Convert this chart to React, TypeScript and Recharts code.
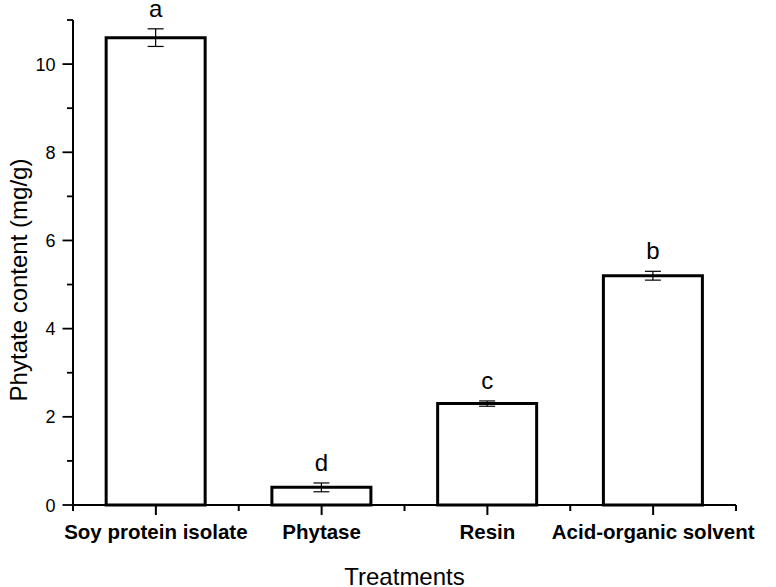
import React from 'react';
import { BarChart, Bar, XAxis, YAxis, ErrorBar, LabelList } from 'recharts';

const categories = ['Soy protein isolate', 'Phytase', 'Resin', 'Acid-organic solvent'];
const values = [10.6, 0.4, 2.3, 5.2];
const errors = [0.2, 0.1, 0.06, 0.1];
const letters = ['a', 'd', 'c', 'b'];
const yTicks = [0, 1, 2, 3, 4, 5, 6, 7, 8, 9, 10, 11];

const data = categories.map((name, i) => ({ name, value: values[i], err: errors[i], letter: letters[i] }));

const W = 776;
const H = 587;
const AXIS_X = 73;
const AXIS_Y = 505;
const PLOT_RIGHT = 736;
const BAND = (PLOT_RIGHT - AXIS_X) / categories.length;
const FONT = 'Arial, "Liberation Sans", Helvetica, sans-serif';

const xTickPaths = () => {
  const parts: string[] = [];
  for (let i = 0; i <= categories.length; i++) {
    const bx = AXIS_X + BAND * i;
    parts.push(`M${bx},${AXIS_Y}V${AXIS_Y + 6}`);
    if (i < categories.length) {
      const cx = bx + BAND / 2;
      parts.push(`M${cx},${AXIS_Y}V${AXIS_Y + 10}`);
    }
  }
  return parts.join('');
};

const YTick = (props: any) => {
  const { y, payload } = props;
  const v = payload.value as number;
  const major = v % 2 === 0;
  return (
    <g>
      <path d={`M${AXIS_X - (major ? 10.5 : 6)},${y}H${AXIS_X}`} stroke="#000" strokeWidth={1.8} fill="none" />
      {v === 0 && <path d={xTickPaths()} stroke="#000" strokeWidth={2} fill="none" />}
      {major && (
        <text x={AXIS_X - 17.5} y={y} dy={6.5} textAnchor="end" fontSize={18} fontFamily={FONT} fill="#000">
          {v}
        </text>
      )}
    </g>
  );
};

const XTick = (props: any) => {
  const { x, payload } = props;
  return (
    <g>
      <text x={x} y={539} textAnchor="middle" fontSize={20.5} fontWeight="bold" fontFamily={FONT} fill="#000">
        {payload.value}
      </text>
    </g>
  );
};

const LetterLabel = (props: any) => {
  const { x, y, width, height, index } = props;
  const v = values[index];
  const errPx = v > 0 ? (errors[index] * height) / v : 0;
  return (
    <text x={x + width / 2} y={y - errPx - 12} textAnchor="middle" fontSize={24} fontFamily={FONT} fill="#000">
      {letters[index]}
    </text>
  );
};

export default function App() {
  return (
    <div style={{ position: 'absolute', left: 0, top: 0, width: W, height: H, background: '#fff' }}>
      <BarChart
        width={W}
        height={H}
        data={data}
        margin={{ top: 20, right: W - PLOT_RIGHT, bottom: 22, left: 13 }}
        barCategoryGap="20%"
      >
        <XAxis
          dataKey="name"
          height={60}
          interval={0}
          axisLine={{ stroke: '#000', strokeWidth: 2 }}
          tickLine={false}
          tick={<XTick />}
          label={(p: any) => (
            <text x={(AXIS_X + PLOT_RIGHT) / 2} y={585} textAnchor="middle" fontSize={24} fontFamily={FONT} fill="#000">
              Treatments
            </text>
          )}
        />
        <YAxis
          width={60}
          domain={[0, 11]}
          ticks={yTicks}
          interval={0}
          allowDecimals={false}
          axisLine={{ stroke: '#000', strokeWidth: 2 }}
          tickLine={false}
          tick={<YTick />}
          label={(p: any) => (
            <text
              x={27}
              y={280}
              transform="rotate(-90 27 280)"
              textAnchor="middle"
              fontSize={24}
              fontFamily={FONT}
              fill="#000"
            >
              Phytate content (mg/g)
            </text>
          )}
        />
        <Bar dataKey="value" fill="#fff" stroke="#000" strokeWidth={3} isAnimationActive={false}>
          <ErrorBar dataKey="err" width={8} stroke="#000" strokeWidth={1.2} direction="y" />
          <LabelList dataKey="letter" content={<LetterLabel />} />
        </Bar>
      </BarChart>
    </div>
  );
}
